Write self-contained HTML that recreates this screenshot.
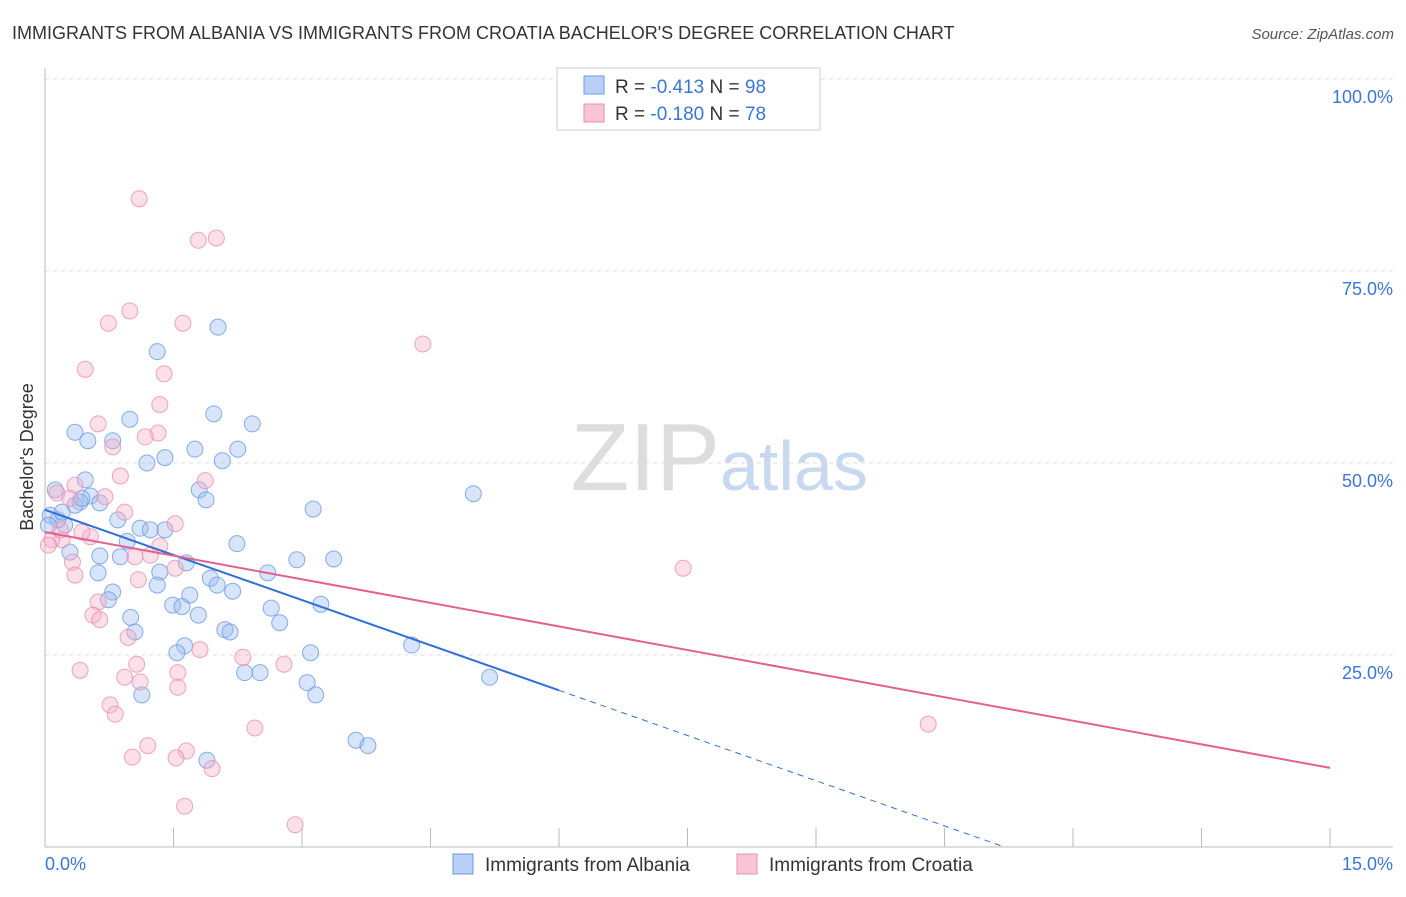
<!DOCTYPE html>
<html><head><meta charset="utf-8"><style>
body{margin:0;background:#fff;font-family:"Liberation Sans",sans-serif;}
svg text{font-family:"Liberation Sans",sans-serif;}
</style></head><body>
<svg id="chart" width="1406" height="892" xmlns="http://www.w3.org/2000/svg">
<text x="12" y="39" font-size="18" fill="#333">IMMIGRANTS FROM ALBANIA VS IMMIGRANTS FROM CROATIA BACHELOR'S DEGREE CORRELATION CHART</text>
<text x="1394" y="39" font-size="15" fill="#555" font-style="italic" text-anchor="end">Source: ZipAtlas.com</text>
<text x="720" y="490" font-size="96" fill="#ddd" text-anchor="end" font-family="Liberation Serif">ZIP</text>
<text x="720" y="490" font-size="70" fill="#c8d8ef">atlas</text>
<text x="33" y="457" font-size="18" fill="#333" text-anchor="middle" transform="rotate(-90 33 457)">Bachelor's Degree</text>
<g id="grid"></g><g id="pts"></g><g id="lines"></g>
<g>
<rect x="557" y="68" width="263" height="62" fill="#fff" stroke="#ccc"/>
<rect x="584" y="76" width="20" height="18" fill="#b8d0f5" stroke="#6a9be0"/>
<rect x="584" y="104" width="20" height="18" fill="#f8c5d5" stroke="#e890ae"/>
<text x="615" y="93" font-size="19" fill="#333">R = <tspan fill="#3b76d6">-0.413</tspan>   N = <tspan fill="#3b76d6">98</tspan></text>
<text x="615" y="120" font-size="19" fill="#333">R = <tspan fill="#3b76d6">-0.180</tspan>   N = <tspan fill="#3b76d6">78</tspan></text>
</g>
<text x="45" y="870" font-size="18" fill="#3b76d6">0.0%</text>
<text x="1393" y="870" font-size="18" fill="#3b76d6" text-anchor="end">15.0%</text>
<g>
<rect x="453" y="854" width="20" height="20" fill="#b8d0f5" stroke="#6a9be0"/>
<text x="485" y="871" font-size="19" fill="#333">Immigrants from Albania</text>
<rect x="737" y="854" width="20" height="20" fill="#f8c5d5" stroke="#e890ae"/>
<text x="769" y="871" font-size="19" fill="#333">Immigrants from Croatia</text>
</g>
</svg>
<script>
const yTicks=[25,50,75,100];
const yTickLabels=["25.0%","50.0%","75.0%","100.0%"];
const xTicks=[0,1.5,3,4.5,6,7.5,9,10.5,12,13.5,15];
const blueX=[1.31,2.02,0.99,1.97,2.42,0.35,0.50,0.79,1.19,1.40,1.75,2.25,2.07,5.00,0.47,0.12,0.53,0.41,0.64,1.80,1.88,3.13,0.85,0.06,0.23,1.11,1.23,1.40,2.24,0.96,0.64,0.88,0.29,2.94,3.37,1.65,2.60,0.62,1.34,1.93,2.01,2.19,0.79,1.31,1.69,0.74,1.49,1.60,1.79,3.22,2.64,2.74,1.00,1.05,2.10,2.16,1.63,1.54,3.10,4.28,5.19,2.33,2.51,3.06,3.16,1.13,1.89,3.63,3.77,0.15,0.20,0.04,0.35,0.43];
const blueY=[64.5,67.7,55.7,56.4,55.1,54.0,52.9,52.9,50.0,50.7,51.8,51.8,50.3,46.0,47.8,46.5,45.7,44.9,44.8,46.5,45.2,44.0,42.6,43.2,41.9,41.5,41.3,41.3,39.5,39.8,37.9,37.8,38.4,37.4,37.5,37.0,35.7,35.7,35.8,35.0,34.1,33.3,33.2,34.1,32.8,32.2,31.5,31.3,30.2,31.6,31.1,29.2,29.9,28.0,28.3,28.0,26.2,25.3,25.3,26.3,22.1,22.7,22.7,21.4,19.8,19.8,11.3,13.9,13.2,42.6,43.6,41.9,44.5,45.4];
const pinkX=[1.10,1.79,2.00,0.99,0.74,1.61,4.41,0.47,1.39,1.34,0.62,1.32,0.79,1.17,0.88,1.87,0.14,0.70,0.35,0.93,1.52,0.53,1.34,0.20,0.32,1.05,1.23,1.52,7.45,0.35,1.09,0.62,0.56,0.64,0.97,1.81,2.31,2.79,1.07,0.41,0.93,1.11,1.55,1.55,0.76,0.82,10.31,2.45,1.20,1.02,1.65,1.53,1.95,1.63,2.92,0.08,0.04,0.18,0.29,0.43];
const pinkY=[84.4,79.0,79.3,69.8,68.2,68.2,65.5,62.2,61.6,57.6,55.1,53.9,52.1,53.4,48.3,47.7,46.1,45.6,47.1,43.6,42.1,40.4,39.2,40.0,37.1,37.8,38.0,36.3,36.3,35.4,34.8,31.9,30.2,29.6,27.3,25.7,24.7,23.8,23.8,23.0,22.1,21.5,22.7,20.8,18.5,17.3,16.0,15.5,13.2,11.7,12.5,11.6,10.2,5.3,2.9,40.0,39.3,41.3,45.4,41.0];
const blueTrend=[[0,43.9],[6,20.4]];
const blueTrendDash=[[6,20.4],[11.2,0]];
const pinkTrend=[[0,41.0],[15,10.3]];
const NS="http://www.w3.org/2000/svg";
const X=v=>45+v/15*1285, Y=v=>847-v*7.68;
function mk(t,a,p){const e=document.createElementNS(NS,t);for(const k in a)e.setAttribute(k,a[k]);p.appendChild(e);return e;}
const grid=document.getElementById('grid');
yTicks.forEach((t,i)=>{
 const l=mk('line',{x1:45,x2:1393,y1:Y(t),y2:Y(t),stroke:'#ddd','stroke-dasharray':'4,4'},grid);
 
 
 const tx=mk('text',{x:1393,y:Y(t)+24,'font-size':18,fill:'#3b76d6','text-anchor':'end'},grid);
 tx.textContent=yTickLabels[i];
 
 
});
const ax=mk('line',{x1:45,x2:1393,y1:847,y2:847,stroke:'#bbb'},grid);


const ay=mk('line',{x1:45,x2:45,y1:68,y2:847,stroke:'#bbb'},grid);


xTicks.forEach(t=>{
 const l=mk('line',{x1:X(t),x2:X(t),y1:828,y2:847,stroke:'#bbb'},grid);
 
 
});
const pts=document.getElementById('pts');
function series(xs,ys,fill,stroke,name){xs.forEach((x,i)=>{
 const c=mk('circle',{cx:X(x),cy:Y(ys[i]),r:8,fill:fill,'fill-opacity':0.4,stroke:stroke,'stroke-opacity':0.8,'stroke-width':1},pts);
 
 
});}
series(blueX,blueY,'#9dbcf0','#6a9be0','albania-point');
series(pinkX,pinkY,'#f5b0c7','#e890ae','croatia-point');
const lines=document.getElementById('lines');
function ln(p,color,dash,name){const l=mk('line',{x1:X(p[0][0]),y1:Y(p[0][1]),x2:X(p[1][0]),y2:Y(p[1][1]),stroke:color,'stroke-width':dash?1:2,'stroke-dasharray':dash?'6,5':'none'},lines);
 
 }
ln(blueTrend,'#2f6fd6',false,'albania-trendline');
ln(blueTrendDash,'#2f6fd6',true,'albania-trendline-extension');
ln(pinkTrend,'#e2618f',false,'croatia-trendline');
</script>
</body></html>
